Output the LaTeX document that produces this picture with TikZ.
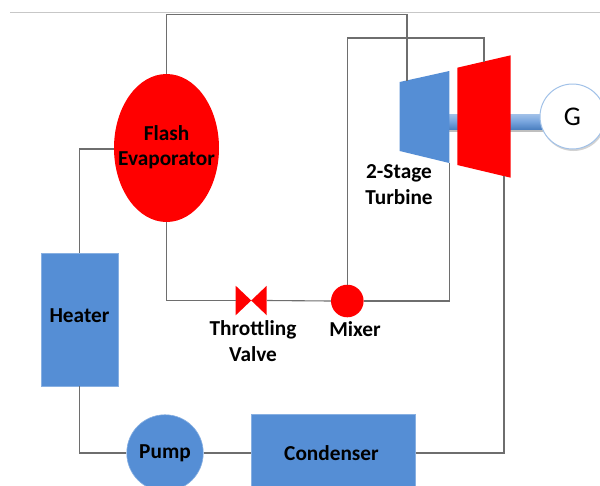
\documentclass[tikz,border=0pt]{standalone}
\usepackage{fontspec}
\setmainfont{Carlito}
\usepackage{tikz}
\usetikzlibrary{shapes.geometric,shadows}

\definecolor{unitblue}{HTML}{558ED5}
\definecolor{pipegray}{HTML}{6E6E6E}

\tikzset{
	pipe/.style = {draw=pipegray, line width=1.1pt},
	label/.style = {font=\fontsize{21.3}{25.5}\selectfont\bfseries, align=center, inner sep=0pt},
	box/.style = {fill=unitblue, draw=unitblue!70!white, line width=0.6pt, inner sep=0pt, label},
	valve/.style = {minimum width=31pt, minimum height=29.5pt, inner sep=0pt,
		path picture={\fill[red] (path picture bounding box.north west)
			-- (path picture bounding box.south east)
			-- (path picture bounding box.north east)
			-- (path picture bounding box.south west) -- cycle;}}
}

\begin{document}
\begin{tikzpicture}[x=1pt, y=-1pt]
	\clip (0,0) rectangle (600,485);
	\fill[white] (0,0) rectangle (600,485);
	\draw[black!22, line width=0.8pt] (10,12.5) -- (600,12.5);

	% shaft and generator
	\fill[black!25] (449,129) rectangle (545,132);
	\shade[top color=unitblue!55!white, bottom color=unitblue!90!black, middle color=unitblue!80!white]
		(449,114) rectangle (545,129);
	\node [circle, fill=white, draw=unitblue!55!white, line width=1pt, minimum size=65pt, inner sep=0pt,
		drop shadow={opacity=0.35, shadow xshift=1pt, shadow yshift=-2pt},
		font=\fontsize{27}{30}\selectfont] (gen) at (572.5,116.5) {G};

	% units
	\node [ellipse, fill=red, minimum width=105pt, minimum height=148pt, inner sep=0pt] (evap) at (166.5,148) {};
	\node [box, minimum width=77pt, minimum height=133pt] (heater) at (79.5,319.5) {};
	\node [box, circle, minimum size=76.5pt] (pump) at (165,453) {Pump};
	\node [box, minimum width=163.5pt, minimum height=110pt] (cond) at (333.5,469.7) {};
	\node [valve] (thr) at (251.2,300.5) {};
	\node [circle, fill=red, minimum size=32.6pt, inner sep=0pt] (mixer) at (347.3,301) {};

	% turbine stages
	\coordinate (hpa) at (399.7,82);
	\coordinate (hpb) at (449.3,71);
	\coordinate (hpc) at (449.3,163);
	\coordinate (hpd) at (399.7,151);
	\coordinate (lpa) at (457.3,67.7);
	\coordinate (lpb) at (510.7,55.3);
	\coordinate (lpc) at (510.7,177.7);
	\coordinate (lpd) at (457.3,165);
	\fill[unitblue] (hpa) -- (hpb) -- (hpc) -- (hpd) -- cycle;
	\fill[red] (lpa) -- (lpb) -- (lpc) -- (lpd) -- cycle;
	\coordinate (hpin) at (407,80.5);
	\coordinate (lpin) at (484,61.5);
	\coordinate (lpout) at (504,176);

	% pipes
	\draw [pipe] (evap.north) |- (407,14.5) -- (hpin);
	\draw [pipe] (mixer.north) |- (484,38) -- (lpin);
	\draw [pipe] (evap.west |- 0,149) -| (heater.north);
	\draw [pipe] (heater.south) |- (pump.west);
	\draw [pipe] (pump.east) -- (cond.west |- pump.east);
	\draw [pipe] (cond.east |- pump.east) -| (lpout);
	\draw [pipe] (evap.south) |- (thr.west);
	\draw [pipe] (thr.east) -- (mixer.west);
	\draw [pipe] (mixer.east) -| (hpc);

	% labels
	\node [label] (evaplabel) at (166.5,147) {Flash\\Evaporator};
	\node [label] (heaterlabel) at (79.5,315.5) {Heater};
	\node [label] (condlabel) at (331.5,453) {Condenser};
	\node [label] (thrlabel) at (253,341) {Throttling\\Valve};
	\node [label] (mixerlabel) at (355,329) {Mixer};
	\node [label] (turblabel) at (399,184.5) {2-Stage\\Turbine};
\end{tikzpicture}
\end{document}
